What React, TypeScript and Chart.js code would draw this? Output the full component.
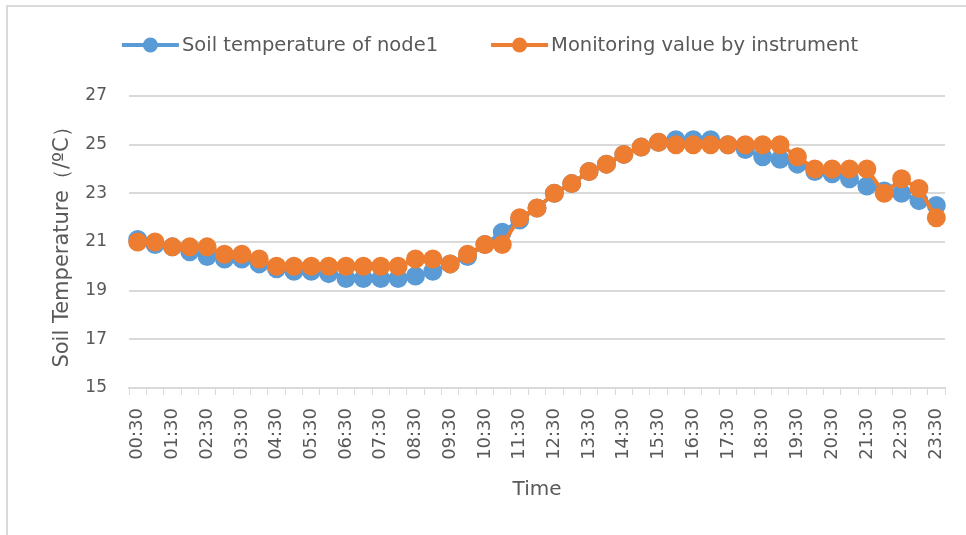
import React, { useEffect, useRef } from "react";
import { Chart, registerables } from "chart.js";

Chart.register(...registerables);

const timeLabels: string[] = [
  "00:30", "01:00", "01:30", "02:00", "02:30", "03:00", "03:30", "04:00",
  "04:30", "05:00", "05:30", "06:00", "06:30", "07:00", "07:30", "08:00",
  "08:30", "09:00", "09:30", "10:00", "10:30", "11:00", "11:30", "12:00",
  "12:30", "13:00", "13:30", "14:00", "14:30", "15:00", "15:30", "16:00",
  "16:30", "17:00", "17:30", "18:00", "18:30", "19:00", "19:30", "20:00",
  "20:30", "21:00", "21:30", "22:00", "22:30", "23:00", "23:30",
];

const node1Temp: number[] = [
  21.1, 20.9, 20.8, 20.6, 20.4, 20.3, 20.3, 20.1,
  19.9, 19.8, 19.8, 19.7, 19.5, 19.5, 19.5, 19.5,
  19.6, 19.8, 20.1, 20.4, 20.9, 21.4, 21.9, 22.4,
  23.0, 23.4, 23.9, 24.2, 24.6, 24.9, 25.1, 25.2,
  25.2, 25.2, 25.0, 24.8, 24.5, 24.4, 24.2, 23.9,
  23.8, 23.6, 23.3, 23.1, 23.0, 22.7, 22.5,
];

const instrumentTemp: number[] = [
  21.0, 21.0, 20.8, 20.8, 20.8, 20.5, 20.5, 20.3,
  20.0, 20.0, 20.0, 20.0, 20.0, 20.0, 20.0, 20.0,
  20.3, 20.3, 20.1, 20.5, 20.9, 20.9, 22.0, 22.4,
  23.0, 23.4, 23.9, 24.2, 24.6, 24.9, 25.1, 25.0,
  25.0, 25.0, 25.0, 25.0, 25.0, 25.0, 24.5, 24.0,
  24.0, 24.0, 24.0, 23.0, 23.6, 23.2, 22.0,
];

const seriesNames: string[] = ["Soil temperature of node1", "Monitoring value by instrument"];
const seriesColors: string[] = ["#5B9BD5", "#ED7D31"];

const yMin = 15;
const yMax = 27;
const yStep = 2;

const FONT_FAMILY = "'DejaVu Sans', sans-serif";
const TEXT_COLOR = "#595959";
const GRID_COLOR = "#d9d9d9";

const legendPlugin = {
  id: "lineLegend",
  afterDraw(chart: any) {
    const ctx = chart.ctx as CanvasRenderingContext2D;
    const datasets = chart.data.datasets;
    ctx.save();
    ctx.font = `19.5px ${FONT_FAMILY}`;
    const lineW = 57;
    const gapText = 3;
    const gapItem = 53;
    const widths = datasets.map(
      (ds: any) => lineW + gapText + ctx.measureText(ds.label).width
    );
    const total =
      widths.reduce((a: number, b: number) => a + b, 0) + gapItem * (datasets.length - 1);
    let x = 490 - total / 2;
    const y = 45;
    datasets.forEach((ds: any, i: number) => {
      ctx.strokeStyle = ds.borderColor;
      ctx.lineWidth = 4;
      ctx.beginPath();
      ctx.moveTo(x, y);
      ctx.lineTo(x + lineW, y);
      ctx.stroke();
      ctx.fillStyle = ds.borderColor;
      ctx.beginPath();
      ctx.arc(x + lineW / 2, y, 7.5, 0, Math.PI * 2);
      ctx.fill();
      ctx.fillStyle = TEXT_COLOR;
      ctx.textBaseline = "middle";
      ctx.textAlign = "left";
      ctx.fillText(ds.label, x + lineW + gapText, y + 1);
      x += widths[i] + gapItem;
    });
    ctx.restore();
  },
};

export default function App() {
  const canvasRef = useRef<HTMLCanvasElement | null>(null);

  useEffect(() => {
    if (!canvasRef.current) return;
    const chart = new Chart(canvasRef.current, {
      type: "line",
      data: {
        labels: timeLabels,
        datasets: [
          {
            label: seriesNames[0],
            data: node1Temp,
            borderColor: seriesColors[0],
            backgroundColor: seriesColors[0],
            pointBackgroundColor: seriesColors[0],
            pointBorderColor: seriesColors[0],
            borderWidth: 4,
            pointRadius: 7.5,
            pointHoverRadius: 7.5,
            tension: 0,
            order: 2,
          },
          {
            label: seriesNames[1],
            data: instrumentTemp,
            borderColor: seriesColors[1],
            backgroundColor: seriesColors[1],
            pointBackgroundColor: seriesColors[1],
            pointBorderColor: seriesColors[1],
            borderWidth: 4,
            pointRadius: 7.5,
            pointHoverRadius: 7.5,
            tension: 0,
            order: 1,
          },
        ],
      },
      options: {
        responsive: false,
        animation: false,
        events: [],
        layout: { padding: { top: 96, right: 21, left: 0, bottom: 0 } },
        plugins: {
          legend: { display: false },
          tooltip: { enabled: false },
          title: { display: false },
        },
        scales: {
          x: {
            offset: true,
            grid: {
              offset: true,
              drawOnChartArea: false,
              drawTicks: true,
              tickLength: 7,
              color: GRID_COLOR,
              lineWidth: 1,
            },
            border: { display: true, color: GRID_COLOR, width: 2 },
            ticks: {
              autoSkip: false,
              minRotation: 90,
              maxRotation: 90,
              padding: 13,
              color: TEXT_COLOR,
              font: { family: FONT_FAMILY, size: 18 },
              callback: (_v: any, i: number) => (i % 2 === 0 ? timeLabels[i] : ""),
            },
            title: {
              display: true,
              text: "Time",
              color: TEXT_COLOR,
              font: { family: FONT_FAMILY, size: 20 },
              padding: { top: 0, bottom: 33 },
            },
            afterFit: (scale: any) => {
              scale.height = 535 - 388;
              scale.paddingLeft = 0;
              scale.paddingRight = 0;
            },
          },
          y: {
            min: yMin,
            max: yMax,
            grid: {
              color: GRID_COLOR,
              lineWidth: 2,
              drawTicks: false,
            },
            border: { display: false },
            ticks: {
              stepSize: yStep,
              padding: 22,
              color: TEXT_COLOR,
              font: { family: FONT_FAMILY, size: 17 },
            },
            title: {
              display: true,
              text: "Soil Temperature（/ºC）",
              color: TEXT_COLOR,
              font: { family: FONT_FAMILY, size: 21 },
              padding: { top: 50, bottom: 0 },
            },
            afterFit: (scale: any) => {
              scale.width = 129;
            },
          },
        },
      },
      plugins: [legendPlugin],
    });
    return () => chart.destroy();
  }, []);

  return (
    <div
      style={{
        position: "fixed",
        left: 0,
        top: 0,
        width: 966,
        height: 535,
        background: "#ffffff",
        overflow: "hidden",
      }}
    >
      <div
        style={{
          position: "absolute",
          left: 6,
          top: 5,
          width: 966,
          height: 540,
          borderTop: "2px solid #d9d9d9",
          borderLeft: "2px solid #d9d9d9",
        }}
      />
      <canvas
        ref={canvasRef}
        width={966}
        height={535}
        style={{ position: "absolute", left: 0, top: 0, width: 966, height: 535 }}
      />
    </div>
  );
}
